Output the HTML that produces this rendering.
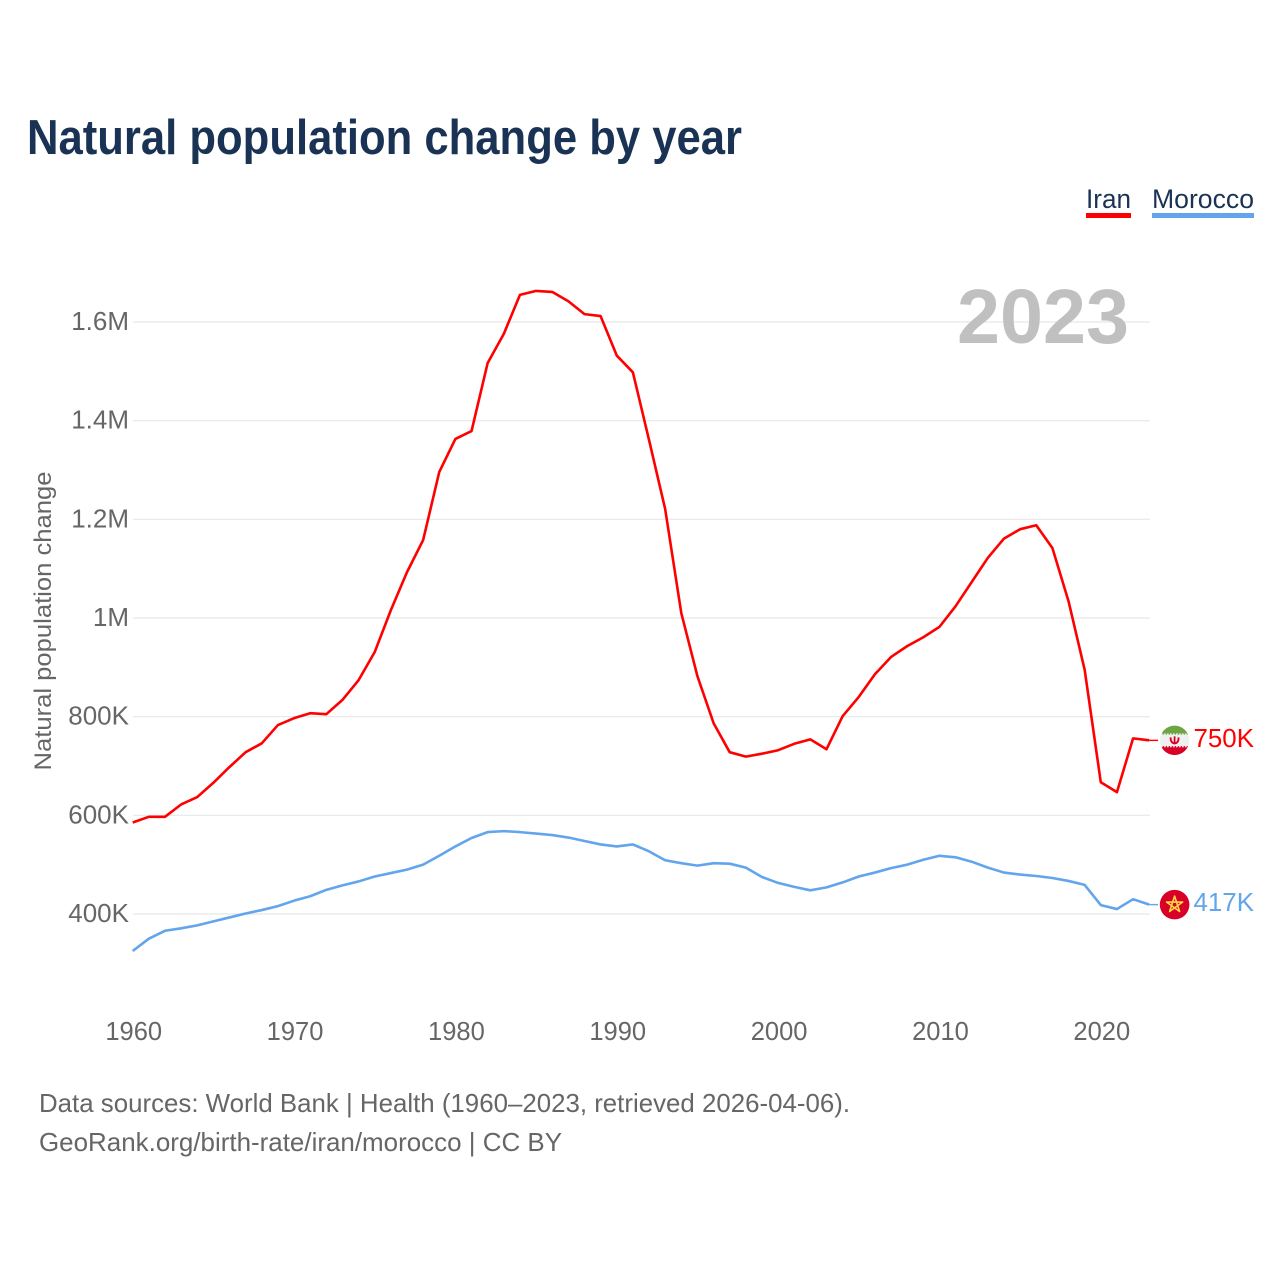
<!DOCTYPE html>
<html lang="en">
<head>
<meta charset="utf-8">
<title>Natural population change by year</title>
<style>
html,body{margin:0;padding:0;background:#fff;width:1280px;height:1280px;overflow:hidden}
svg{display:block}
text{font-family:"Liberation Sans",sans-serif}
</style>
</head>
<body>
<svg id="chart" xmlns="http://www.w3.org/2000/svg" width="1280" height="1280" viewBox="0 0 1280 1280">
  <rect width="1280" height="1280" fill="#fff"/>
  <text x="27" y="154" font-size="49" font-weight="700" fill="#1a3354" textLength="715" lengthAdjust="spacingAndGlyphs">Natural population change by year</text>
  <text x="1086" y="208" font-size="27" fill="#1a3354" textLength="45" lengthAdjust="spacingAndGlyphs">Iran</text>
  <rect x="1086" y="213" width="45" height="5" fill="#ff0000"/>
  <text x="1152" y="208" font-size="27" fill="#1a3354" textLength="102" lengthAdjust="spacingAndGlyphs">Morocco</text>
  <rect x="1152" y="213" width="102" height="5" fill="#62a5ec"/>
  <g id="grid"></g>
  <text x="1129" y="343" font-size="77" font-weight="700" fill="#c0c0c0" text-anchor="end" textLength="172" lengthAdjust="spacingAndGlyphs">2023</text>
  <g id="yticks"></g>
  <g id="xticks"></g>
  <text transform="translate(51,621) rotate(-90)" font-size="24" fill="#666" text-anchor="middle" textLength="299" lengthAdjust="spacingAndGlyphs">Natural population change</text>
  <g id="series"></g>
  <g id="flag-iran">
    <clipPath id="clip-iran"><circle cx="0" cy="0" r="14.7"/></clipPath>
    <g clip-path="url(#clip-iran)">
      <rect x="-15" y="-15" width="30" height="30" fill="#f0f0f0"/>
      <rect x="-15" y="-15" width="30" height="8" fill="#6da544"/>
      <rect x="-15" y="7" width="30" height="8" fill="#d80027"/>
      <line x1="-15" x2="15" y1="-6.5" y2="-6.5" stroke="#6da544" stroke-width="1.5" stroke-dasharray="1.5 1.5"/>
      <line x1="-15" x2="15" y1="6.5" y2="6.5" stroke="#d80027" stroke-width="1.5" stroke-dasharray="1.5 1.5"/>
      <path d="M-4 -3 Q-4 3 0 3 Q4 3 4 -3 M0 -4 V4" fill="none" stroke="#d80027" stroke-width="1.8"/>
    </g>
  </g>
  <g id="flag-morocco">
    <circle cx="0" cy="0" r="14.8" fill="#d80027"/>
    <polygon points="0,-8.5 5,6.9 -8.1,-2.6 8.1,-2.6 -5,6.9" fill="none" stroke="#ffda44" stroke-width="1.6" stroke-linejoin="round"/>
  </g>
  <g id="end-labels"></g>
  <text x="39" y="1112" font-size="26" fill="#666" textLength="811" lengthAdjust="spacingAndGlyphs">Data sources: World Bank | Health (1960–2023, retrieved 2026-04-06).</text>
  <text x="39" y="1151" font-size="26" fill="#666" textLength="523" lengthAdjust="spacingAndGlyphs">GeoRank.org/birth-rate/iran/morocco | CC BY</text>
</svg>
<script>
const startYear = 1960;
const yTickValues = [400, 600, 800, 1000, 1200, 1400, 1600];
const yTickLabels = ['400K', '600K', '800K', '1M', '1.2M', '1.4M', '1.6M'];
const xTickValues = [1960, 1970, 1980, 1990, 2000, 2010, 2020];
const iranValues = [585.5,597,597,622,637,666,698,728,746,783,797,807,805,834,874,931,1016,1093,1158,1296,1363,1379,1517,1576,1655,1663,1661,1642,1616,1612,1532,1498,1361,1221,1010,882,787,728,719,725,732,745,754,734,801,840,886,921,943,961,982,1024,1073,1122,1161,1180,1188,1142,1034,895,667,647,756,752];
const moroccoValues = [325,350,366,371,377,385,393,401,408,416,427,436,449,458,466,476,483,490,500,518,537,554,566,568,566,563,560,555,548,541,537,541,527,509,503,498,503,502,494,475,463,455,448,454,464,476,484,493,500,510,518,515,506,494,484,480,477,473,467,459,418,410,430,419];
const iranEndLabel = '750K';
const moroccoEndLabel = '417K';

const NS = 'http://www.w3.org/2000/svg';
function xScale(year) { return 132.7 + (year - 1960) * 16.135; }
function yScale(value) { return 914 - (value - 400) * 0.49333; }
function make(tag, parent) {
  const el = document.createElementNS(NS, tag);
  parent.appendChild(el);
  return el;
}
const grid = document.getElementById('grid');
const yticks = document.getElementById('yticks');
const xticks = document.getElementById('xticks');
const seriesGroup = document.getElementById('series');
const endLabels = document.getElementById('end-labels');

yTickValues.forEach(function (v, i) {
  const line = make('line', grid);
  
  
  line.setAttribute('x1', 133);
  line.setAttribute('x2', 1150);
  line.setAttribute('y1', yScale(v));
  line.setAttribute('y2', yScale(v));
  line.setAttribute('stroke', '#ebebeb');
  line.setAttribute('stroke-width', 1.4);
  const t = make('text', yticks);
  
  
  t.setAttribute('x', 129);
  t.setAttribute('y', yScale(v) + 8);
  t.setAttribute('text-anchor', 'end');
  t.setAttribute('font-size', 26);
  t.setAttribute('fill', '#666');
  t.textContent = yTickLabels[i];
});

xTickValues.forEach(function (yr) {
  const t = make('text', xticks);
  
  
  t.setAttribute('x', xScale(yr) + 1);
  t.setAttribute('y', 1040);
  t.setAttribute('text-anchor', 'middle');
  t.setAttribute('font-size', 25.5);
  t.setAttribute('fill', '#666');
  t.textContent = String(yr);
});

function drawSeries(values, color, seriesName, labelText, flagId) {
  const pts = values.map(function (v, i) {
    return xScale(startYear + i).toFixed(2) + ',' + yScale(v).toFixed(2);
  });
  const lastIndex = values.length - 1;
  const lastY = yScale(values[lastIndex]);
  const connector = make('line', seriesGroup);
  
  
  connector.setAttribute('x1', xScale(startYear + lastIndex));
  connector.setAttribute('x2', 1158);
  connector.setAttribute('y1', lastY);
  connector.setAttribute('y2', lastY);
  connector.setAttribute('stroke', color);
  connector.setAttribute('stroke-width', 1.4);
  const line = make('polyline', seriesGroup);
  
  
  line.setAttribute('points', pts.join(' '));
  line.setAttribute('fill', 'none');
  line.setAttribute('stroke', color);
  line.setAttribute('stroke-width', 2.6);
  line.setAttribute('stroke-linejoin', 'round');
  document.getElementById(flagId).setAttribute('transform', 'translate(1174.6,' + lastY.toFixed(2) + ')');
  const t = make('text', endLabels);
  
  
  t.setAttribute('x', 1193.5);
  t.setAttribute('y', lastY + 6.5);
  t.setAttribute('font-size', 26);
  t.setAttribute('fill', color);
  t.setAttribute('textLength', 60.5);
  t.setAttribute('lengthAdjust', 'spacingAndGlyphs');
  t.textContent = labelText;
}
drawSeries(iranValues, '#ff0000', 'iran', iranEndLabel, 'flag-iran');
drawSeries(moroccoValues, '#62a5ec', 'morocco', moroccoEndLabel, 'flag-morocco');
</script>
</body>
</html>
